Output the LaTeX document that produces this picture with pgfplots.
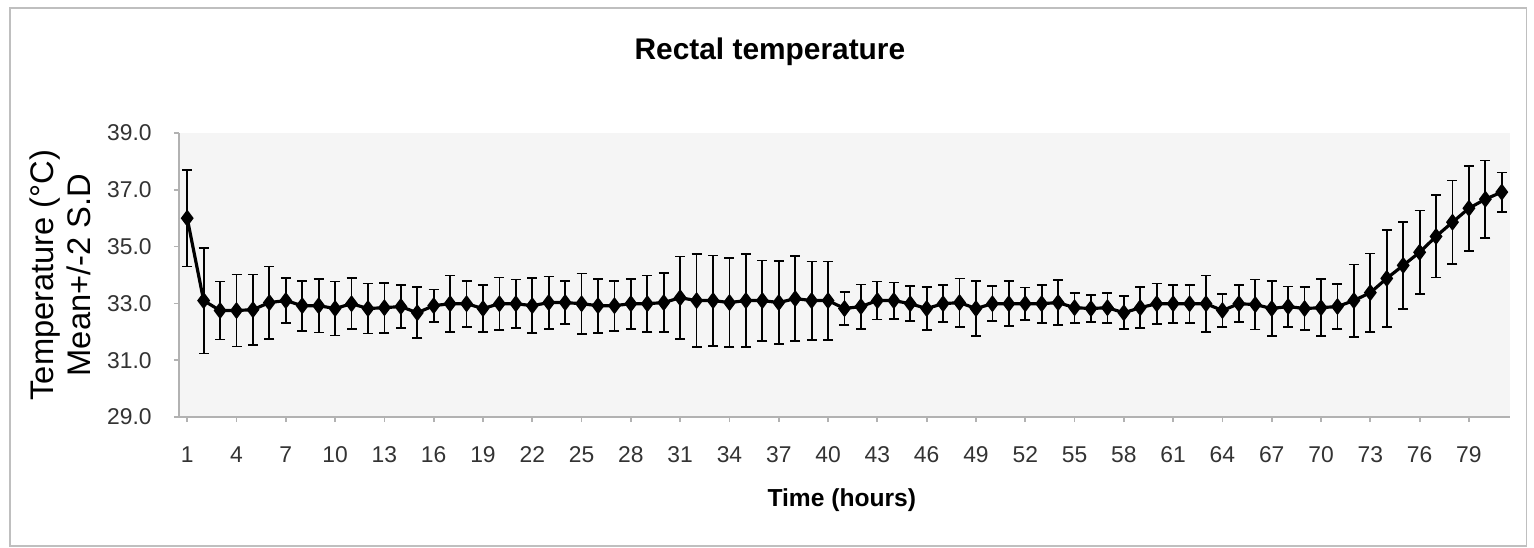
\documentclass[border=0pt]{standalone}
\usepackage{fontspec}
\setmainfont{Liberation Sans}
\usepackage{pgfplots}
\pgfplotsset{compat=1.18}
\usepackage{pgfplotstable}

% hour, mean temperature, 2 S.D
\pgfplotstableread{
x y e
1 36.00 1.70
2 33.10 1.86
3 32.75 1.02
4 32.75 1.27
5 32.78 1.24
6 33.03 1.27
7 33.10 0.80
8 32.92 0.88
9 32.92 0.94
10 32.82 0.95
11 32.99 0.90
12 32.82 0.88
13 32.85 0.88
14 32.89 0.76
15 32.67 0.90
16 32.92 0.57
17 32.99 0.99
18 32.99 0.81
19 32.82 0.83
20 32.99 0.92
21 32.99 0.85
22 32.92 0.97
23 33.03 0.92
24 33.03 0.76
25 32.99 1.06
26 32.92 0.95
27 32.92 0.88
28 32.99 0.88
29 32.99 0.99
30 33.03 1.04
31 33.20 1.45
32 33.10 1.63
33 33.10 1.59
34 33.03 1.57
35 33.10 1.63
36 33.10 1.41
37 33.03 1.47
38 33.17 1.50
39 33.10 1.38
40 33.10 1.38
41 32.82 0.58
42 32.89 0.78
43 33.10 0.67
44 33.10 0.64
45 32.99 0.62
46 32.82 0.76
47 32.99 0.65
48 33.03 0.85
49 32.82 0.97
50 32.99 0.62
51 32.99 0.79
52 32.99 0.57
53 32.99 0.67
54 33.03 0.80
55 32.85 0.53
56 32.82 0.48
57 32.85 0.53
58 32.67 0.58
59 32.85 0.72
60 32.99 0.71
61 32.99 0.67
62 32.99 0.67
63 32.99 0.99
64 32.75 0.58
65 32.99 0.65
66 32.96 0.88
67 32.82 0.97
68 32.89 0.71
69 32.82 0.76
70 32.85 1.00
71 32.89 0.80
72 33.10 1.27
73 33.38 1.38
74 33.88 1.71
75 34.34 1.54
76 34.80 1.47
77 35.36 1.45
78 35.86 1.47
79 36.35 1.50
80 36.67 1.36
81 36.92 0.69
}\rectal

\begin{document}
\begin{tikzpicture}
\path[use as bounding box] (-1.79,-1.30) rectangle (13.55,4.17);
\draw[black!25, line width=0.3pt] (-1.69,-1.29) rectangle (13.47,4.09);
\begin{axis}[
    at={(0,0)}, anchor=south west,
    scale only axis,
    width=13.31cm, height=2.84cm,
    xmin=0.5, xmax=81.5,
    ymin=29, ymax=39,
    xtick={1,4,...,79},
    ytick={29,31,...,39},
    yticklabel style={xshift=-1mm, /pgf/number format/fixed, /pgf/number format/fixed zerofill, /pgf/number format/precision=1},
    /pgf/number format/assume math mode=true,
    tick label style={font=\fontsize{6.5}{7}\selectfont, text=black!80},
    xticklabel style={yshift=-1.2mm},
    axis x line*=bottom,
    axis y line*=left,
    axis line style={black!30, line width=0.6pt},
    tick style={black!30, line width=0.5pt},
    tick align=outside,
    major tick length=0.5mm,
    axis background/.style={fill=black!4},
    title={\textbf{Rectal temperature}},
    every axis title shift=0pt,
    title style={font=\fontsize{8.5}{10}\selectfont, at={(axis description cs:0.444,1.285)}, anchor=center},
    xlabel={\textbf{Time (hours)}},
    xlabel style={font=\fontsize{7}{8}\selectfont, at={(axis description cs:0.498,-0.292)}, anchor=center},
    ylabel={Temperature (°C)\\Mean+/-2 S.D},
    ylabel style={font=\fontsize{9.3}{10.5}\selectfont, align=center, at={(axis description cs:-0.089,0.5)}, anchor=center},
]
\addplot[
    black, line width=0.9pt,
    mark=diamond*, mark size=0.6mm, mark options={solid, fill=black},
    error bars/.cd, y dir=both, y explicit,
    error bar style={black, line width=0.5pt},
    error mark options={rotate=90, mark size=0.5mm, line width=0.5pt},
] table[x=x, y=y, y error=e] {\rectal};
\end{axis}
\end{tikzpicture}
\end{document}
